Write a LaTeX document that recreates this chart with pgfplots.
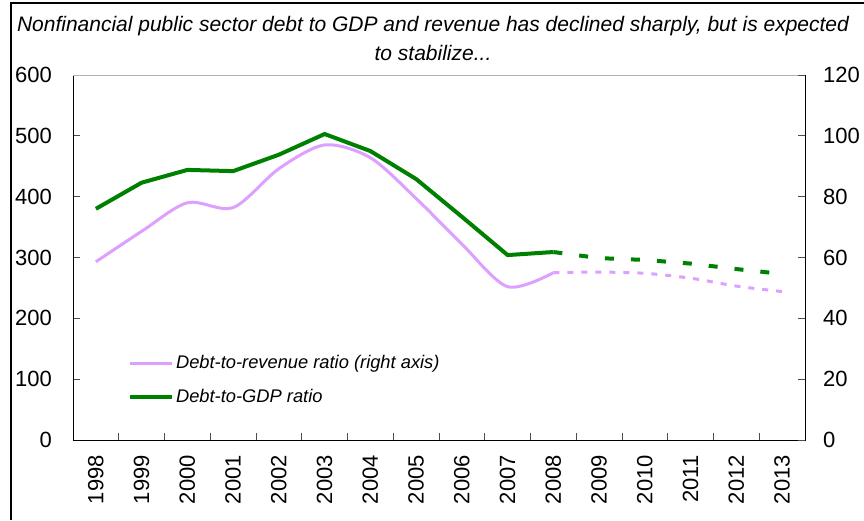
\documentclass[border=0pt]{standalone}
\usepackage{fontspec}
\setmainfont{Liberation Sans}
\usepackage{pgfplots}
\pgfplotsset{compat=1.18}
\definecolor{dgreen}{RGB}{0,128,0}
\definecolor{lilac}{RGB}{221,160,255}
\begin{document}
\begin{tikzpicture}
\useasboundingbox (0pt,0pt) rectangle (864pt,520pt);
\draw[line width=1.5pt] (11pt,0pt) -- (11pt,517pt) -- (864pt,517pt);
\node[font=\fontsize{21}{24}\selectfont\itshape] at (433pt,494pt) {Nonfinancial public sector debt to GDP and revenue has declined sharply, but is expected};
\node[font=\fontsize{21}{24}\selectfont\itshape] at (433pt,467pt) {to stabilize...};
\begin{axis}[
 at={(73pt,80pt)}, anchor=south west,
 scale only axis, width=732pt, height=365pt,
 xmin=-0.5, xmax=15.5, ymin=0, ymax=600,
 xtick={0,...,15},
 xticklabels={1998,1999,2000,2001,2002,2003,2004,2005,2006,2007,2008,2009,2010,2011,2012,2013},
 minor xtick={0.5,1.5,...,14.5},
 major x tick style={draw=none},
 minor x tick style={draw=gray!60!black, line width=0.8pt},
 ytick={0,100,...,600},
 ytick pos=left, xtick pos=bottom, tick align=inside,
 major tick length=7pt, minor tick length=7pt,
 y tick style={draw=gray!60!black, line width=0.8pt},
 axis line style={black, line width=1pt},
 /pgf/number format/assume math mode=true,
 ticklabel style={font=\fontsize{22}{26}\selectfont},
 yticklabel style={inner sep=0pt}, yticklabel shift=21pt,
 xticklabel style={rotate=90, anchor=east, inner sep=0pt}, xticklabel shift=15pt,
 legend style={draw=none, fill=none, at={(0.075,0.237)}, anchor=north west,
   font=\fontsize{18.3}{21}\selectfont\itshape, row sep=15pt, inner sep=0pt},
 legend cell align=left,
 legend image code/.code={\draw[#1] (0pt,0pt) -- (42pt,0pt);},
 clip=false,
]
\draw[gray!60, line width=1pt] (rel axis cs:0,1) -- (rel axis cs:1,1);
\addplot[lilac, line width=3pt, smooth, tension=0.5] coordinates {
 (0,293) (1,343) (2,390) (3,382) (4,446) (5,485) (6,464) (7,397) (8,322) (9,252) (10,275)};
\addlegendentry{Debt-to-revenue ratio (right axis)}
\addplot[dgreen, line width=4pt] coordinates {
 (0,380) (1,423) (2,444) (3,442) (4,469) (5,503) (6,475) (7,429) (8,367) (9,304) (10,309)};
\addlegendentry{Debt-to-GDP ratio}
\addplot[lilac, line width=3pt, dash pattern=on 6pt off 8pt, smooth, tension=0.5, forget plot] coordinates {
 (10,275) (11,276) (12,274) (13,266) (14,253) (15,244)};
\addplot[dgreen, line width=4pt, dash pattern=on 9pt off 17pt, forget plot] coordinates {
 (10,309) (11,299) (12,296) (13,290) (14,281) (15,273)};
\end{axis}
\begin{axis}[
 at={(73pt,80pt)}, anchor=south west,
 scale only axis, width=732pt, height=365pt,
 xmin=-0.5, xmax=15.5, ymin=0, ymax=120,
 hide x axis, axis y line*=right,
 axis line style={-, black, line width=1pt},
 ytick={0,20,...,120}, tick align=inside, major tick length=7pt,
 y tick style={draw=gray!60!black, line width=0.8pt},
 /pgf/number format/assume math mode=true,
 yticklabel style={inner sep=0pt, font=\fontsize{22}{26}\selectfont}, yticklabel shift=18pt,
]
\addplot[draw=none] coordinates {(0,0)};
\end{axis}
\end{tikzpicture}
\end{document}
